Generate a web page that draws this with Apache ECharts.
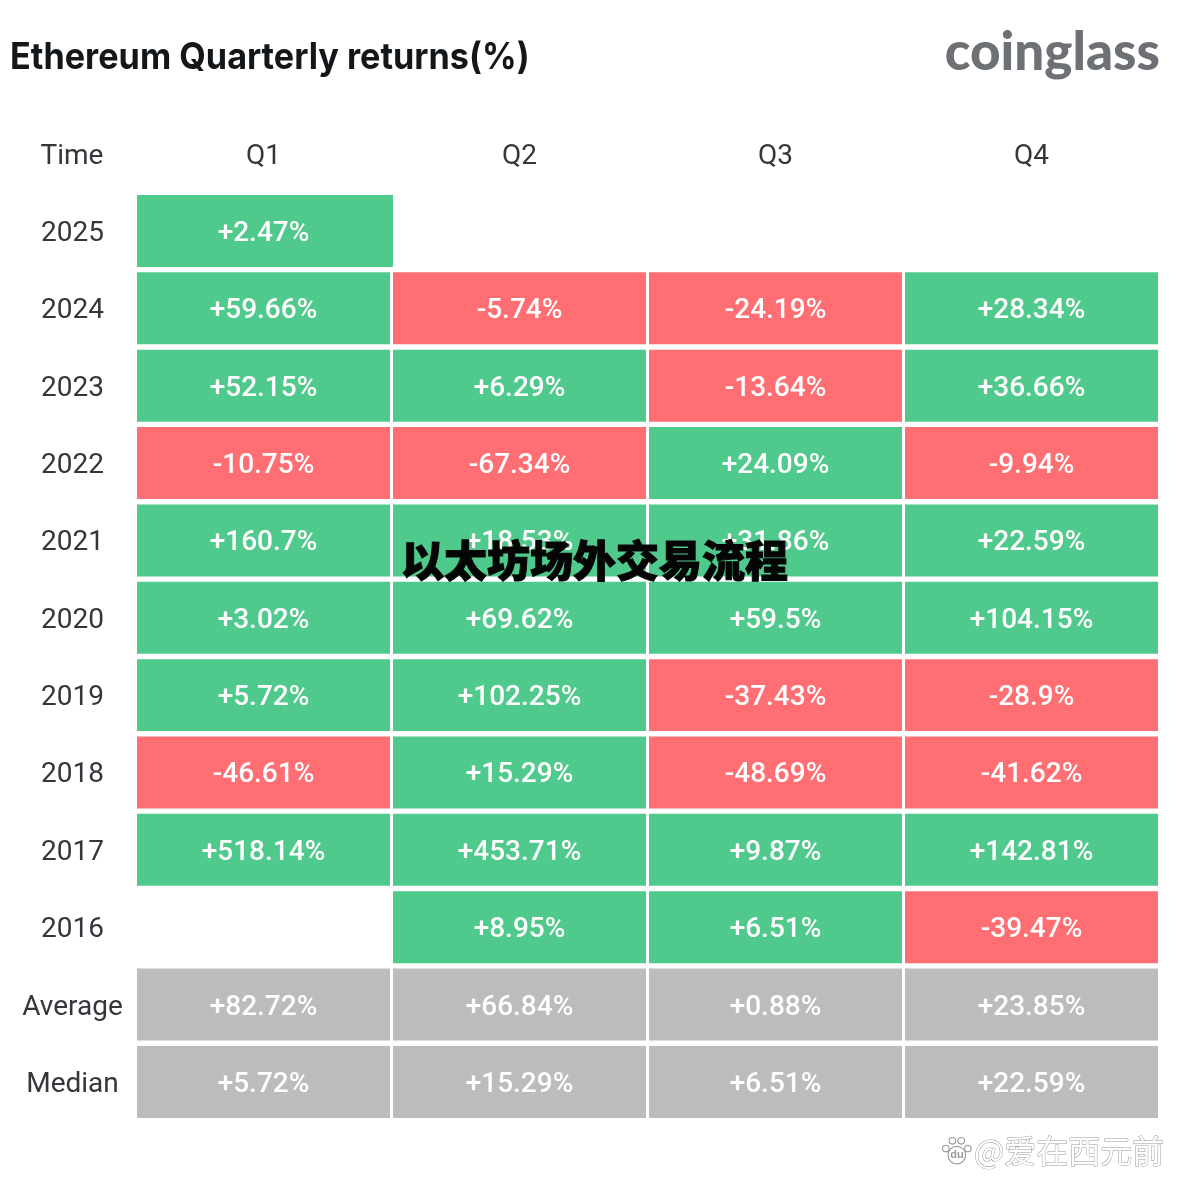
<!DOCTYPE html>
<html>
<head>
<meta charset="utf-8">
<style>html,body{margin:0;padding:0;background:#fff}#chart{width:1186px;height:1194px}</style>
<script src="https://cdn.jsdelivr.net/npm/echarts@6/dist/echarts.min.js"></script>
</head>
<body>
<div id="chart"></div>
<script>
const quarters = ['Q1', 'Q2', 'Q3', 'Q4']
const rows = ['2025', '2024', '2023', '2022', '2021', '2020', '2019', '2018', '2017', '2016', 'Average', 'Median']

// one list per quarter, same order as rows
const q1 = [2.47, 59.66, 52.15, -10.75, 160.7, 3.02, 5.72, -46.61, 518.14, null, 82.72, 5.72]
const q2 = [null, -5.74, 6.29, -67.34, 18.53, 69.62, 102.25, 15.29, 453.71, 8.95, 66.84, 15.29]
const q3 = [null, -24.19, -13.64, 24.09, 31.86, 59.5, -37.43, -48.69, 9.87, 6.51, 0.88, 6.51]
const q4 = [null, 28.34, 36.66, -9.94, 22.59, 104.15, -28.9, -41.62, 142.81, -39.47, 23.85, 22.59]

const GREEN = '#50ca8c'
const RED = '#ff6e73'
const GRAY = '#bbbcbb'
const numFont = 'Roboto, sans-serif'

const cells = []
;[q1, q2, q3, q4].forEach((list, x) => {
  list.forEach((v, y) => {
    if (v !== null) cells.push([x, y, v])
  })
})

const cellColor = (y, v) => {
  if (y >= 10) return GRAY
  return v >= 0 ? GREEN : RED
}

const myChart = echarts.init(document.getElementById('chart'), null, { renderer: 'canvas' })

myChart.setOption({
  animation: false,
  backgroundColor: '#fff',
  title: [
    {
      text: 'coinglass',
      right: 21, top: 21,
      textStyle: { fontFamily: 'Lato', fontWeight: 900, fontSize: 53, color: '#6d7074' }
    },
    {
      text: 'Time',
      left: 67, top: 138,
      textAlign: 'center',
      textStyle: { fontFamily: numFont, fontWeight: 400, fontSize: 28, color: '#33363b' }
    },
    {
      text: '以太坊场外交易流程',
      left: 396, top: 534,
      textStyle: {
        fontFamily: '"Noto Sans CJK SC"', fontWeight: 900, fontSize: 43, color: '#050505',
        textBorderColor: '#050505', textBorderWidth: 1
      }
    },
    {
      text: '@爱在西元前',
      left: 969, top: 1130,
      textStyle: {
        fontFamily: '"Noto Sans CJK SC"', fontWeight: 400, fontSize: 32, color: '#ffffff',
        textBorderColor: '#9a9a9a', textBorderWidth: 1
      }
    }
  ],
  grid: { left: 135.5, top: 192.3, width: 1024, height: 928.3 },
  xAxis: {
    type: 'category',
    position: 'top',
    data: quarters,
    axisLine: { show: false },
    axisTick: { show: false },
    splitLine: { show: false },
    axisLabel: { margin: 21, fontFamily: numFont, fontSize: 28, color: '#33363b' }
  },
  yAxis: {
    type: 'category',
    inverse: true,
    data: rows,
    axisLine: { show: false },
    axisTick: { show: false },
    splitLine: { show: false },
    axisLabel: { margin: 63, align: 'center', verticalAlign: 'top', lineHeight: 6, fontFamily: numFont, fontSize: 28, color: '#33363b' }
  },
  series: [
    {
      type: 'custom',
      data: cells,
      encode: { x: 0, y: 1 },
      renderItem: (params, api) => {
        const x = api.value(0)
        const y = api.value(1)
        const v = api.value(2)
        const c = api.coord([x, y])
        const size = api.size([1, 1])
        const w = size[0] - 3
        const h = size[1] - 5.4
        // the 2025 Q1 cell runs over the column gap in the original
        const extra = x === 0 && y === 0 ? 3 : 0
        return {
          type: 'rect',
          shape: { x: c[0] - w / 2, y: c[1] - h / 2, width: w + extra, height: h },
          style: { fill: cellColor(y, v) },
          textContent: {
            style: {
              text: (v >= 0 ? '+' : '') + v + '%',
              fill: '#fff',
              fontFamily: numFont,
              fontWeight: 500,
              fontSize: 28
            }
          },
          textConfig: { position: 'inside', offset: [-extra / 2, 3] }
        }
      }
    }
  ],
  graphic: [
    {
      type: 'text', left: 10, top: 39, silent: true, scaleX: 0.925,
      style: {
        text: 'Ethereum Quarterly returns(%)',
        fontFamily: 'Inter', fontWeight: 700, fontSize: 37, fill: '#14171a'
      }
    },
    {
      // baidu paw in front of the watermark
      type: 'group', left: 942, top: 1137, silent: true, scaleX: 1.1, scaleY: 1.1,
      children: [
        { type: 'circle', shape: { cx: 4, cy: 12, r: 3 }, style: { fill: '#fff', stroke: '#9a9a9a' } },
        { type: 'circle', shape: { cx: 10, cy: 5, r: 3 }, style: { fill: '#fff', stroke: '#9a9a9a' } },
        { type: 'circle', shape: { cx: 18, cy: 5, r: 3 }, style: { fill: '#fff', stroke: '#9a9a9a' } },
        { type: 'circle', shape: { cx: 24, cy: 12, r: 3 }, style: { fill: '#fff', stroke: '#9a9a9a' } },
        { type: 'circle', shape: { cx: 14, cy: 18, r: 8 }, style: { fill: '#fff', stroke: '#9a9a9a' } },
        { type: 'text', x: 8, y: 13, style: { text: 'du', fontSize: 10, fontWeight: 700, fill: '#999' } }
      ]
    }
  ]
})
</script>
</body>
</html>
